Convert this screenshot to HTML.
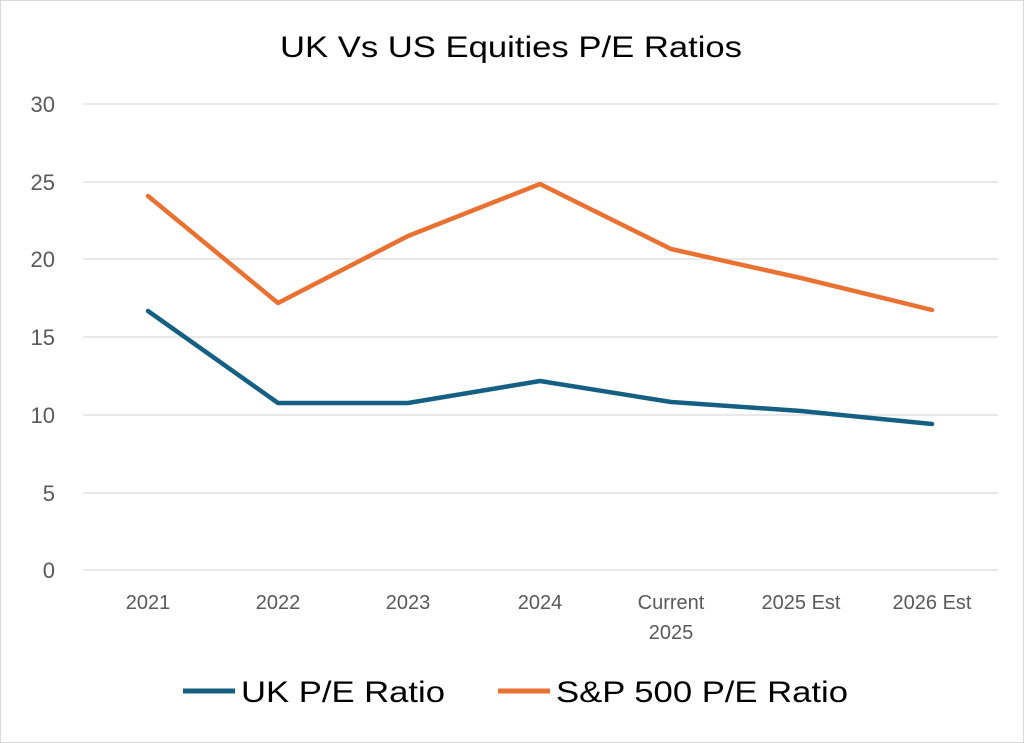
<!DOCTYPE html>
<html><head><meta charset="utf-8"><style>
html,body{margin:0;padding:0;background:#fff;}
</style></head><body>
<svg width="1024" height="743" xmlns="http://www.w3.org/2000/svg" style="display:block;font-family:'Liberation Sans',sans-serif">
<rect x="0.5" y="0.5" width="1023" height="742" fill="#fff" stroke="#d9d9d9"/>
<text x="280" y="57" font-size="30" fill="#000" textLength="462" lengthAdjust="spacingAndGlyphs">UK Vs US Equities P/E Ratios</text>
<g stroke="#d9d9d9" stroke-width="1.3">
<line x1="83" x2="998" y1="104" y2="104"/>
<line x1="83" x2="998" y1="182" y2="182"/>
<line x1="83" x2="998" y1="259" y2="259"/>
<line x1="83" x2="998" y1="337" y2="337"/>
<line x1="83" x2="998" y1="415" y2="415"/>
<line x1="83" x2="998" y1="493" y2="493"/>
<line x1="83" x2="998" y1="570" y2="570"/>
</g>
<g font-size="22" fill="#595959" text-anchor="end">
<text x="55" y="112">30</text>
<text x="55" y="190">25</text>
<text x="55" y="267">20</text>
<text x="55" y="345">15</text>
<text x="55" y="423">10</text>
<text x="55" y="501">5</text>
<text x="55" y="578">0</text>
</g>
<g font-size="20" fill="#595959" text-anchor="middle">
<text x="148" y="609">2021</text>
<text x="278" y="609">2022</text>
<text x="408" y="609">2023</text>
<text x="540" y="609">2024</text>
<text x="671" y="609">Current</text>
<text x="671" y="639">2025</text>
<text x="801" y="609">2025 Est</text>
<text x="932" y="609">2026 Est</text>
</g>
<polyline fill="none" stroke="#156082" stroke-width="4.5" stroke-linejoin="round" stroke-linecap="round" points="148,311 278,403 408,403 540,381 671,402 801,411 932,424"/>
<polyline fill="none" stroke="#E97132" stroke-width="4.5" stroke-linejoin="round" stroke-linecap="round" points="148,196 278,303 408,236 540,184 671,249 801,278 932,310"/>
<line x1="183" x2="235" y1="691" y2="691" stroke="#156082" stroke-width="5"/>
<text x="241" y="702" font-size="30" fill="#000" textLength="204" lengthAdjust="spacingAndGlyphs">UK P/E Ratio</text>
<line x1="498" x2="550" y1="691" y2="691" stroke="#E97132" stroke-width="5"/>
<text x="556" y="702" font-size="30" fill="#000" textLength="292" lengthAdjust="spacingAndGlyphs">S&amp;P 500 P/E Ratio</text>
</svg>
</body></html>
